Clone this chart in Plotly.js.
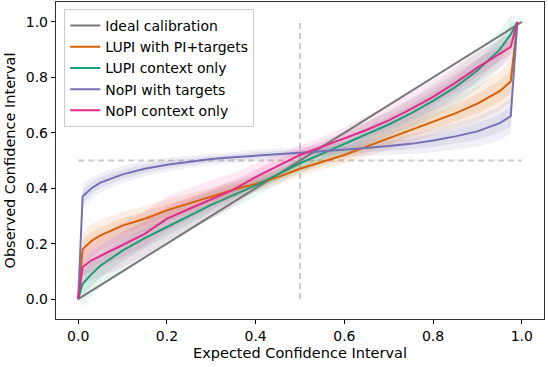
<!DOCTYPE html>
<html>
<head>
<meta charset="utf-8">
<script src="https://cdn.plot.ly/plotly-3.0.1.min.js"></script>
<style>
  html, body { margin: 0; padding: 0; background: #fff; }
  #plot { width: 548px; height: 367px; }
</style>
</head>
<body>
<div id="plot"></div>
<script>
/*
Calibration curves - expected vs observed confidence interval
*/

var expected = [0, 0.01, 0.03, 0.05, 0.1, 0.15, 0.2, 0.25, 0.3, 0.35, 0.4, 0.45, 0.5,
                0.55, 0.6, 0.65, 0.7, 0.75, 0.8, 0.85, 0.9, 0.95, 0.975, 0.99];

var idealX = [0, 1];
var idealY = [0, 1];

var lupiTargets = [0, 0.18, 0.21, 0.23, 0.265, 0.29, 0.32, 0.345, 0.37, 0.395, 0.415, 0.44, 0.47,
                   0.495, 0.52, 0.55, 0.58, 0.61, 0.64, 0.67, 0.705, 0.75, 0.785, 1.0];
var lupiContext = [0, 0.055, 0.09, 0.12, 0.175, 0.22, 0.26, 0.30, 0.34, 0.375, 0.41, 0.45, 0.49,
                   0.525, 0.56, 0.595, 0.63, 0.67, 0.715, 0.765, 0.825, 0.9, 0.955, 1.0];
var nopiTargets = [0, 0.37, 0.40, 0.42, 0.45, 0.47, 0.485, 0.495, 0.505, 0.512, 0.518, 0.523, 0.528,
                   0.533, 0.538, 0.545, 0.552, 0.56, 0.572, 0.587, 0.605, 0.635, 0.66, 1.0];
var nopiContext = [0, 0.115, 0.14, 0.155, 0.195, 0.235, 0.29, 0.325, 0.36, 0.395, 0.44, 0.48, 0.52,
                   0.55, 0.58, 0.61, 0.645, 0.685, 0.73, 0.78, 0.835, 0.885, 0.91, 1.0];

// half-widths of the shaded bands (outer band)
var lupiTargetsSpread = [0, 0.06, 0.06, 0.055, 0.05, 0.045, 0.04, 0.035, 0.032, 0.03, 0.028, 0.026, 0.025,
                         0.027, 0.03, 0.035, 0.04, 0.045, 0.05, 0.055, 0.065, 0.07, 0.075, 0];
var lupiContextSpread = [0, 0.08, 0.08, 0.075, 0.07, 0.065, 0.06, 0.055, 0.05, 0.045, 0.04, 0.035, 0.035,
                         0.035, 0.04, 0.045, 0.05, 0.055, 0.06, 0.065, 0.07, 0.07, 0.07, 0];
var nopiTargetsSpread = [0, 0.045, 0.04, 0.035, 0.03, 0.028, 0.025, 0.022, 0.02, 0.02, 0.02, 0.02, 0.02,
                         0.022, 0.025, 0.028, 0.032, 0.036, 0.042, 0.048, 0.055, 0.06, 0.065, 0];
var nopiContextSpread = [0, 0.06, 0.07, 0.075, 0.08, 0.08, 0.08, 0.075, 0.07, 0.06, 0.05, 0.04, 0.035,
                         0.035, 0.04, 0.05, 0.055, 0.06, 0.06, 0.06, 0.055, 0.05, 0.05, 0];

var refX = [0.5, 0.5];
var refY = [0, 1];

var series = [
  { name: "LUPI with PI+targets", y: lupiTargets, w: lupiTargetsSpread, color: '#d95f02', rgb: '217,95,2' },
  { name: "LUPI context only", y: lupiContext, w: lupiContextSpread, color: '#1b9e77', rgb: '27,158,119' },
  { name: "NoPI with targets", y: nopiTargets, w: nopiTargetsSpread, color: '#7570b3', rgb: '117,112,179' },
  { name: "NoPI context only", y: nopiContext, w: nopiContextSpread, color: '#e7298a', rgb: '231,41,138' }
];

function band(s, k, alpha, grp)
{
  var up = [], lo = [];
  for (var i = 0; i < expected.length; i++)
  {
    up.push(s.y[i] + s.w[i] * k);
    lo.push(s.y[i] - s.w[i] * k);
  }
  return {
    x: expected.concat(expected.slice().reverse()),
    y: up.concat(lo.reverse()),
    type: "scatter",
    mode: "lines",
    fill: "toself",
    fillcolor: 'rgba(' + s.rgb + ',' + alpha + ')',
    line: { width: 0, color: 'rgba(0,0,0,0)' },
    hoverinfo: "skip",
    showlegend: false,
    legendgroup: grp
  };
}

var data = [];

data.push({
  x: refX, y: refY, type: "scatter", mode: "lines",
  line: { color: '#cccccc', width: 2, dash: '6px,4px' },
  showlegend: false, hoverinfo: "skip"
});
data.push({
  x: refY, y: refX, type: "scatter", mode: "lines",
  line: { color: '#cccccc', width: 2, dash: '6px,4px' },
  showlegend: false, hoverinfo: "skip"
});

series.forEach(function (s, i)
{
  data.push(band(s, 1.0, 0.10, 'g' + (i + 2)));
  data.push(band(s, 0.55, 0.13, 'g' + (i + 2)));
});

data.push({
  x: idealX, y: idealY, type: "scatter", mode: "lines",
  name: "Ideal calibration",
  line: { color: '#777777', width: 2 },
  legendgroup: 'g1', legendrank: 1
});

series.forEach(function (s, i)
{
  data.push({
    x: expected, y: s.y, type: "scatter", mode: "lines",
    name: s.name,
    line: { color: s.color, width: 2 },
    legendgroup: 'g' + (i + 2), legendrank: i + 2
  });
});

var tickFont = { family: 'DejaVu Sans', size: 14, color: '#000' };
var titleFont = { family: 'DejaVu Sans', size: 14.5, color: '#000' };

var layout =
{
  width: 548,
  height: 367,
  margin: { l: 56, r: 4, t: 2, b: 48 },
  paper_bgcolor: '#fff',
  plot_bgcolor: '#fff',
  font: { family: 'DejaVu Sans', size: 14, color: '#000' },
  showlegend: true,
  legend:
  {
    x: 0.017, y: 0.978, xanchor: 'left', yanchor: 'top',
    bgcolor: 'rgba(255,255,255,0.85)',
    bordercolor: '#cccccc', borderwidth: 1,
    font: { family: 'DejaVu Sans', size: 14, color: '#000' },
    traceorder: 'grouped',
    tracegroupgap: 0
  },
  xaxis:
  {
    range: [-0.05, 1.05],
    tickvals: [0, 0.2, 0.4, 0.6, 0.8, 1.0],
    ticktext: ['0.0', '0.2', '0.4', '0.6', '0.8', '1.0'],
    ticks: 'outside', ticklen: 4, tickcolor: '#000', tickwidth: 1,
    showline: true, mirror: true, linecolor: '#333', linewidth: 1.2,
    showgrid: false, zeroline: false,
    tickfont: tickFont,
    title: { text: "Expected Confidence Interval", font: titleFont, standoff: 4 }
  },
  yaxis:
  {
    range: [-0.072, 1.072],
    tickvals: [0, 0.2, 0.4, 0.6, 0.8, 1.0],
    ticktext: ['0.0', '0.2', '0.4', '0.6', '0.8', '1.0'],
    ticks: 'outside', ticklen: 4, tickcolor: '#000', tickwidth: 1,
    showline: true, mirror: true, linecolor: '#333', linewidth: 1.2,
    showgrid: false, zeroline: false,
    tickfont: tickFont,
    title: { text: "Observed Confidence Interval", font: titleFont, standoff: 6 }
  }
};

Plotly.newPlot("plot", data, layout, { staticPlot: true });
</script>
</body>
</html>
